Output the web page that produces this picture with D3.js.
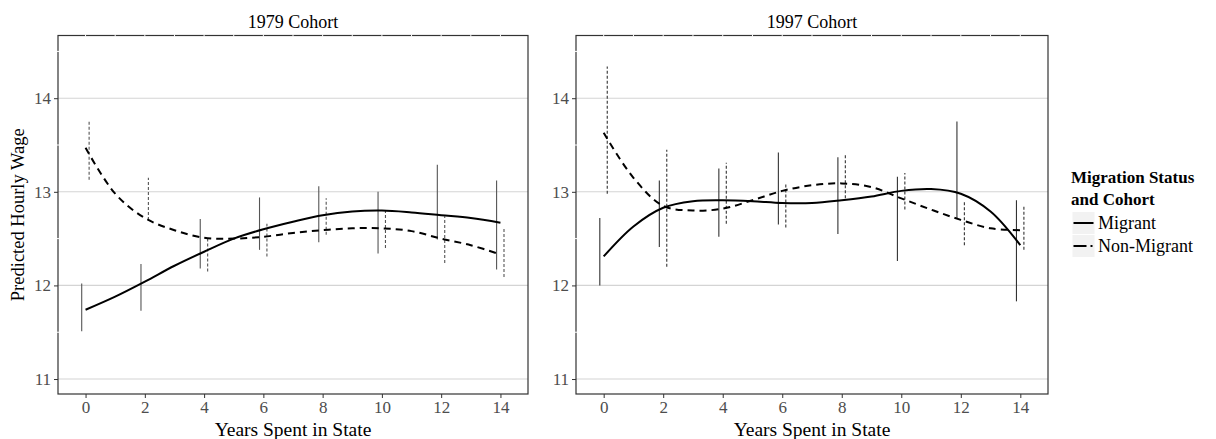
<!DOCTYPE html>
<html>
<head>
<meta charset="utf-8">
<script src="https://cdn.jsdelivr.net/npm/d3@7"></script>
<style>
  body { margin: 0; background: #fff; }
  svg text { font-family: "Liberation Serif", "DejaVu Serif", serif; }
</style>
</head>
<body>
<svg id="vis" width="1216" height="439"></svg>
<script>
// data
const cohorts = ["1979 Cohort", "1997 Cohort"]
const years = [0, 1, 2, 3, 4, 5, 6, 7, 8, 9, 10, 11, 12, 13, 14]
const barYears = [0, 2, 4, 6, 8, 10, 12, 14]
const yTicks = [11, 12, 13, 14]

// 1979 cohort
const m79Line = [11.74, 11.88, 12.04, 12.21, 12.36, 12.50, 12.60, 12.68, 12.75, 12.79, 12.80, 12.78, 12.75, 12.72, 12.67]
const nm79Line = [13.47, 12.98, 12.72, 12.59, 12.51, 12.50, 12.52, 12.56, 12.59, 12.61, 12.61, 12.58, 12.50, 12.43, 12.33]
const m79Lo = [11.51, 11.73, 12.18, 12.38, 12.46, 12.34, 12.49, 12.17]
const m79Hi = [12.02, 12.23, 12.71, 12.94, 13.06, 13.00, 13.29, 13.12]
const nm79Lo = [13.13, 12.70, 12.15, 12.31, 12.54, 12.40, 12.24, 12.09]
const nm79Hi = [13.77, 13.15, 12.50, 12.66, 12.93, 12.81, 12.74, 12.62]

// 1997 cohort
const m97Line = [12.31, 12.63, 12.83, 12.90, 12.91, 12.90, 12.88, 12.88, 12.91, 12.95, 13.01, 13.03, 12.98, 12.79, 12.43]
const nm97Line = [13.63, 13.15, 12.85, 12.80, 12.82, 12.91, 13.01, 13.07, 13.09, 13.05, 12.93, 12.81, 12.70, 12.61, 12.59]
const m97Lo = [12.00, 12.41, 12.52, 12.65, 12.55, 12.26, 12.72, 11.83]
const m97Hi = [12.72, 13.12, 13.25, 13.42, 13.37, 13.16, 13.75, 12.91]
const nm97Lo = [12.98, 12.20, 12.66, 12.62, 12.93, 12.81, 12.43, 12.38]
const nm97Hi = [14.34, 13.45, 13.31, 13.09, 13.40, 13.20, 12.90, 12.85]

const statuses = ["Migrant", "Non-Migrant"]

const panelData = [
  {title: cohorts[0], lines: [m79Line, nm79Line], lo: [m79Lo, nm79Lo], hi: [m79Hi, nm79Hi]},
  {title: cohorts[1], lines: [m97Line, nm97Line], lo: [m97Lo, nm97Lo], hi: [m97Hi, nm97Hi]}
]

const svg = d3.select("#vis")
const panels = [{x0: 58, x1: 528}, {x0: 576, x1: 1048}]
const plotTop = 35.5, plotBottom = 394
const dodge = [-0.13, 0.12]
const dashLine = ["none", "7,5"]
const dashBar = ["none", "3,2"]

const y = d3.scaleLinear().domain([10.84, 14.67]).range([plotBottom, plotTop])

panelData.forEach((p, pi) => {
  const x = d3.scaleLinear().domain([-0.93, 14.93]).range([panels[pi].x0, panels[pi].x1])
  const g = svg.append("g")

  // grid
  g.selectAll(".grid").data(yTicks).enter().append("line")
    .attr("x1", x.range()[0]).attr("x2", x.range()[1])
    .attr("y1", d => y(d)).attr("y2", d => y(d))
    .attr("stroke", "#d4d4d4").attr("stroke-width", 1.1)

  // error bars
  statuses.forEach((s, si) => {
    g.selectAll(".bar" + si).data(barYears).enter().append("line")
      .attr("x1", d => x(d + dodge[si])).attr("x2", d => x(d + dodge[si]))
      .attr("y1", (d, i) => y(p.lo[si][i])).attr("y2", (d, i) => y(p.hi[si][i]))
      .attr("stroke", pi ? "#333" : "#555").attr("stroke-width", 1.1)
      .attr("stroke-dasharray", dashBar[si])
  })

  // fitted lines
  const line = d3.line()
    .x((d, i) => x(years[i]))
    .y(d => y(d))
    .curve(d3.curveCatmullRom.alpha(0.5))
  statuses.forEach((s, si) => {
    g.append("path").datum(p.lines[si])
      .attr("d", line)
      .attr("fill", "none").attr("stroke", "#000").attr("stroke-width", 2)
      .attr("stroke-dasharray", dashLine[si])
  })

  // border
  g.append("rect")
    .attr("x", x.range()[0]).attr("y", plotTop)
    .attr("width", x.range()[1] - x.range()[0]).attr("height", plotBottom - plotTop)
    .attr("fill", "none").attr("stroke", "#333").attr("stroke-width", 1.2)
  // little white breaks where the grid meets the frame
  g.selectAll(".tgap").data(years).enter().append("line")
    .attr("x1", d => x(d)).attr("x2", d => x(d))
    .attr("y1", plotTop - 1).attr("y2", plotTop + 1)
    .attr("stroke", "#fff").attr("stroke-width", 1)
  g.selectAll(".lgap").data([11.5, 12.5, 13.5, 14.5]).enter().append("line")
    .attr("x1", x.range()[0] - 1).attr("x2", x.range()[0] + 1)
    .attr("y1", d => y(d)).attr("y2", d => y(d))
    .attr("stroke", "#fff").attr("stroke-width", 1)

  // axes
  const xa = g.append("g").attr("transform", `translate(0,${plotBottom})`)
    .call(d3.axisBottom(x).tickValues(barYears).tickSize(4).tickPadding(3))
  const ya = g.append("g").attr("transform", `translate(${x.range()[0]},0)`)
    .call(d3.axisLeft(y).tickValues(yTicks).tickFormat(d3.format("d")).tickSize(4).tickPadding(3))
  ;[xa, ya].forEach(a => {
    a.select(".domain").remove()
    a.selectAll(".tick line").attr("stroke", "#333")
    a.selectAll(".tick text").attr("fill", "#4d4d4d")
      .style("font-size", "17px").style("font-family", "Liberation Serif")
  })

  // titles
  g.append("text")
    .attr("x", (x.range()[0] + x.range()[1]) / 2).attr("y", 28)
    .attr("text-anchor", "middle").style("font-size", "18px")
    .text(p.title)
  g.append("text")
    .attr("x", (x.range()[0] + x.range()[1]) / 2).attr("y", 436)
    .attr("text-anchor", "middle").style("font-size", "19.5px")
    .text("Years Spent in State")
})

svg.append("text")
  .attr("transform", `translate(24,${(plotTop + plotBottom) / 2}) rotate(-90)`)
  .attr("text-anchor", "middle").style("font-size", "18.5px")
  .text("Predicted Hourly Wage")

// legend
const legend = svg.append("g").attr("transform", "translate(1071,0)")
legend.append("text").attr("x", 0).attr("y", 183)
  .style("font-size", "17px").style("font-weight", "bold").text("Migration Status")
legend.append("text").attr("x", 0).attr("y", 205)
  .style("font-size", "17px").style("font-weight", "bold").text("and Cohort")
statuses.forEach((s, si) => {
  const ky = 212 + si * 23
  legend.append("rect").attr("x", 1.5).attr("y", ky).attr("width", 22).attr("height", 22)
    .attr("fill", "#f2f2f2")
  legend.append("line").attr("x1", 2.5).attr("x2", 22.5)
    .attr("y1", ky + 11).attr("y2", ky + 11)
    .attr("stroke", "#000").attr("stroke-width", 2)
    .attr("stroke-dasharray", si ? "13,4,2,10" : "none")
  legend.append("text").attr("x", 27).attr("y", ky + 17)
    .style("font-size", "18px").text(s)
})
</script>
</body>
</html>
